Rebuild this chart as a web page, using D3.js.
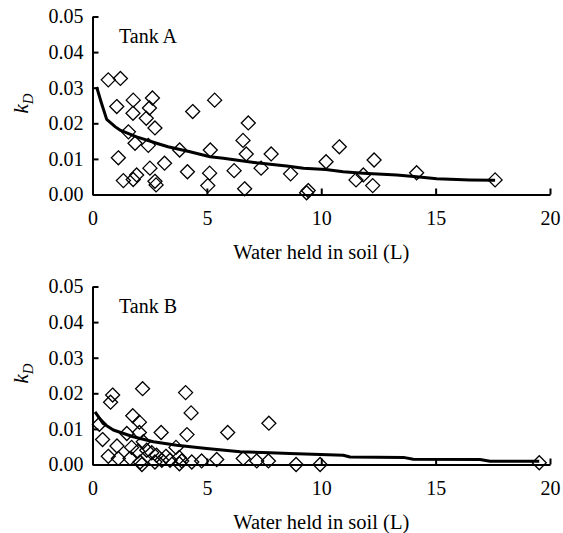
<!DOCTYPE html>
<html>
<head>
<meta charset="utf-8">
<script src="https://cdn.jsdelivr.net/npm/d3@7"></script>
<style>
  html, body { margin: 0; padding: 0; background: #fff; }
  svg text { font-family: "Liberation Serif", "Times New Roman", serif; fill: #000; }
</style>
</head>
<body>
<svg id="chart" width="563" height="533"></svg>
<script>
// Tank A: observed kD against water held in soil (L)
const tankAWater = [0.69, 1.22, 1.06, 1.78, 2.62, 1.77, 2.49, 2.35, 2.73, 1.57, 1.86, 2.44, 1.13, 1.35, 1.78, 1.93, 2.51, 2.73, 2.78, 3.15, 3.81, 4.15, 4.38, 5.34, 5.15, 5.12, 5.04, 6.19, 6.81, 6.58, 6.72, 6.65, 7.37, 7.81, 8.66, 9.36, 9.43, 10.21, 10.79, 11.52, 11.84, 12.25, 12.31, 14.17, 17.6];
const tankAKd    = [0.0322, 0.0326, 0.0247, 0.0265, 0.0271, 0.0228, 0.0243, 0.0214, 0.0187, 0.0176, 0.0144, 0.0138, 0.0103, 0.0039, 0.0042, 0.0055, 0.0074, 0.0037, 0.0027, 0.0088, 0.0125, 0.0064, 0.0233, 0.0265, 0.0125, 0.0060, 0.0025, 0.0067, 0.0201, 0.0152, 0.0114, 0.0016, 0.0074, 0.0114, 0.0058, 0.0005, 0.0011, 0.0092, 0.0134, 0.0041, 0.0055, 0.0025, 0.0097, 0.0061, 0.0041];

// Tank A: fitted curve
const tankAFitWater = [0.18, 0.4, 0.62, 1.0, 1.2, 1.93, 2.8, 3.3, 4.26, 5.14, 5.72, 6.74, 7.18, 7.76, 8.49, 9.22, 10.2, 10.96, 11.84, 13.3, 14.17, 15.05, 16.5, 17.6];
const tankAFitKd    = [0.0302, 0.0255, 0.0211, 0.0190, 0.0181, 0.0162, 0.0144, 0.0134, 0.0120, 0.0106, 0.0102, 0.0093, 0.0089, 0.0085, 0.0080, 0.0074, 0.0070, 0.0064, 0.0060, 0.0055, 0.0050, 0.0044, 0.0041, 0.0040];

// Tank B: observed kD against water held in soil (L)
const tankBWater = [0.88, 0.79, 2.19, 4.07, 4.31, 1.76, 2.05, 0.3, 7.71, 3.0, 4.13, 5.91, 1.50, 2.05, 0.44, 1.07, 1.71, 2.22, 1.98, 2.37, 2.59, 3.65, 3.21, 3.79, 0.69, 1.13, 1.64, 2.08, 2.73, 3.03, 3.39, 3.90, 4.34, 4.77, 5.43, 6.59, 7.18, 7.69, 8.90, 9.95, 19.53, 2.8, 2.16, 3.8];
const tankBKd    = [0.0195, 0.0175, 0.0213, 0.0202, 0.0145, 0.0137, 0.0119, 0.0113, 0.0116, 0.0090, 0.0084, 0.0090, 0.0087, 0.0090, 0.0070, 0.0052, 0.0048, 0.0064, 0.0037, 0.0040, 0.0033, 0.0048, 0.0023, 0.0020, 0.0023, 0.0017, 0.0017, 0.0007, 0.0007, 0.0012, 0.0012, 0.0010, 0.0007, 0.0010, 0.0014, 0.0017, 0.0010, 0.0010, 0.0000, 0.0000, 0.0005, 0.0026, 0.0000, 0.0002];

// Tank B: fitted curve
const tankBFitWater = [0.11, 0.47, 0.91, 1.78, 2.66, 3.68, 4.99, 6.45, 7.76, 8.63, 10.96, 11.26, 13.59, 14.02, 16.94, 17.38, 19.53];
const tankBFitKd    = [0.0148, 0.0115, 0.0097, 0.0078, 0.0064, 0.0054, 0.0045, 0.0036, 0.0033, 0.0031, 0.0026, 0.0021, 0.0020, 0.0015, 0.0014, 0.0009, 0.0009];

const xTicks = [0, 5, 10, 15, 20];
const yTicks = [0, 0.01, 0.02, 0.03, 0.04, 0.05];
const panelLabels = ["Tank A", "Tank B"];
const xTitle = "Water held in soil (L)";

const svg = d3.select("#chart");

const panels = [
  { top: 16.5, water: tankAWater, kd: tankAKd, fitW: tankAFitWater, fitK: tankAFitKd, label: panelLabels[0] },
  { top: 286.5, water: tankBWater, kd: tankBKd, fitW: tankBFitWater, fitK: tankBFitKd, label: panelLabels[1] }
];

const left = 92.5, right = 550, plotH = 178;

panels.forEach(p => {
  const g = svg.append("g").attr("transform", `translate(0,${p.top})`);
  const x = d3.scaleLinear().domain([0, 20]).range([left, right]);
  const y = d3.scaleLinear().domain([0, 0.05]).range([plotH, 0]);

  // fitted curve
  const pts = p.fitW.map((w, i) => [w, p.fitK[i]]);
  g.append("path")
    .datum(pts)
    .attr("fill", "none")
    .attr("stroke", "#000")
    .attr("stroke-width", 3)
    .attr("stroke-linejoin", "round")
    .attr("d", d3.line().x(d => x(d[0])).y(d => y(d[1])));

  // observations as open diamonds
  const r = 7;
  const diamond = `M0,${-r}L${r},0L0,${r}L${-r},0Z`;
  g.append("g").selectAll("path")
    .data(p.water.map((w, i) => [w, p.kd[i]]))
    .join("path")
    .attr("d", diamond)
    .attr("transform", d => `translate(${x(d[0])},${y(d[1])})`)
    .attr("fill", "none")
    .attr("stroke", "#000")
    .attr("stroke-width", 1.3);

  // axes
  const xAxis = g.append("g")
    .attr("transform", `translate(0,${plotH})`)
    .call(d3.axisBottom(x).tickValues(xTicks).tickSize(-6).tickSizeOuter(0).tickPadding(16).tickFormat(d3.format("d")));
  const yAxis = g.append("g")
    .attr("transform", `translate(${left},0)`)
    .call(d3.axisLeft(y).tickValues(yTicks).tickSize(-6).tickSizeOuter(0).tickPadding(9).tickFormat(d3.format(".2f")));
  [xAxis, yAxis].forEach(a => {
    a.selectAll("path, line").attr("stroke", "#000").attr("stroke-width", 2);
    a.selectAll("text").style("font-size", "20px").attr("fill", "#000");
    a.attr("font-family", null);
  });

  // panel label
  g.append("text")
    .attr("x", 119)
    .attr("y", 26.5)
    .style("font-size", "20px")
    .text(p.label);

  // x-axis title
  g.append("text")
    .attr("x", x(10))
    .attr("y", plotH + 64.5)
    .attr("text-anchor", "middle")
    .style("font-size", "20.5px")
    .text(xTitle);

  // y-axis title: italic k with subscript D
  const yt = g.append("text")
    .attr("transform", `translate(28,${y(0.025) - 2}) rotate(-90)`)
    .attr("text-anchor", "middle")
    .style("font-size", "21px")
    .style("font-style", "italic");
  yt.append("tspan").text("k");
  yt.append("tspan").attr("dy", 5).style("font-size", "15px").text("D");
});
</script>
</body>
</html>
